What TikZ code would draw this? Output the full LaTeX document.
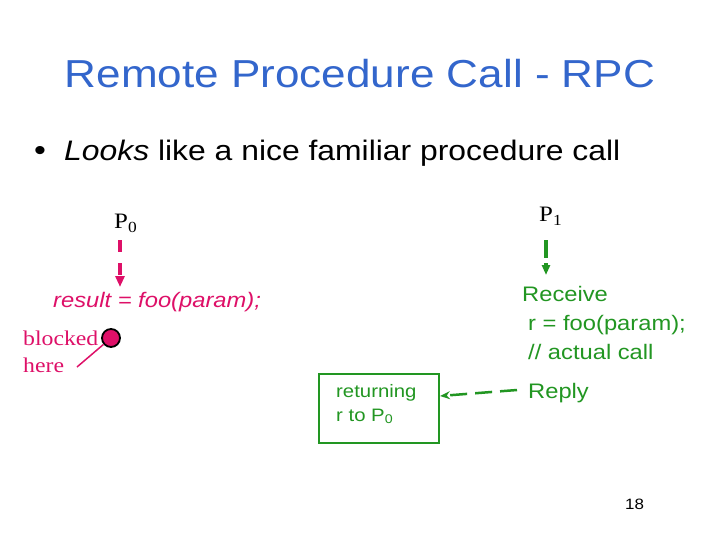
\documentclass[tikz,border=0pt]{standalone}
\usepackage{fontspec}
\setmainfont{Liberation Sans}[FakeStretch=1.13]
\newfontfamily\seriffont{Liberation Serif}[FakeStretch=1.13]
\usetikzlibrary{arrows.meta}
\definecolor{titleblue}{RGB}{51,102,204}
\definecolor{mag}{RGB}{222,16,104}
\definecolor{grn}{RGB}{34,150,34}
\tikzset{
  txt/.style={inner sep=0pt, anchor=base west},
  sertxt/.style={inner sep=0pt, anchor=base west, font=\seriffont\fontsize{22}{26}\selectfont},
  magtxt/.style={txt, text=mag, font=\itshape\fontsize{21}{25}\selectfont},
  grntxt/.style={txt, text=grn, font=\fontsize{21}{25}\selectfont},
}
\begin{document}
\begin{tikzpicture}[x=1pt,y=-1pt]
\useasboundingbox[fill=white] (0,0) rectangle (720,540);
\node[inner sep=0pt, text=titleblue, font=\fontsize{39}{44}\selectfont, anchor=base] (title) at (360,88) {Remote Procedure Call - RPC};
\node[txt, font=\fontsize{30}{33}\selectfont] (dotb) at (34,161) {\textbullet};
\node[txt, font=\fontsize{28.2}{33}\selectfont] (bullet) at (64,161) {\textit{Looks} like a nice familiar procedure call};
\node[sertxt] (p0) at (114,229) {P\textsubscript{0}};
\node[sertxt] (p1) at (539,222) {P\textsubscript{1}};
\node[magtxt] (call) at (53,307) {result = foo(param);};
\coordinate (a0s) at (120,240);
\coordinate (a0e) at (120,287);
\draw[mag, line width=4.5pt, dash pattern=on 12pt off 11pt, -{Triangle[length=11pt,width=9pt]}] (a0s) -- (a0e);
\coordinate (a1s) at (546,240);
\coordinate (a1e) at (546,275);
\draw[grn, line width=4pt, dash pattern=on 18pt off 5pt, -{Triangle[length=10pt,width=8pt]}] (a1s) -- (a1e);
\node[sertxt, text=mag, align=left, anchor=north west, font=\seriffont\fontsize{21}{27}\selectfont] (blk) at (23,331) {blocked\\here};
\node[circle, draw=black, line width=1.8pt, fill=mag, minimum size=18pt, inner sep=0pt] (dot) at (111,338) {};
\coordinate (blkend) at (77,367);
\draw[mag, line width=1.5pt] (dot) -- (blkend);
\node[draw=grn, line width=2pt, minimum width=120pt, minimum height=69pt, anchor=north west] (box) at (318,373) {};
\node[txt, text=grn, font=\fontsize{18}{21}\selectfont] (ret1) at (336,397) {returning};
\node[txt, text=grn, font=\fontsize{18}{21}\selectfont] (ret2) at (336,421) {r to P\textsubscript{0}};
\node[grntxt] (recv) at (522,301) {Receive};
\node[grntxt] (rfoo) at (528,330) {r = foo(param);};
\node[grntxt] (act) at (528,359) {// actual call};
\node[grntxt] (reply) at (528,398) {Reply};
\coordinate (rs) at (517,390);
\coordinate (re) at (440,396);
\draw[grn, line width=2.5pt, dash pattern=on 17pt off 8pt, -{Stealth[length=10pt,width=8pt]}] (rs) -- (re);
\node[txt, font=\fontsize{15}{18}\selectfont] (num) at (625,509) {18};
\end{tikzpicture}
\end{document}
